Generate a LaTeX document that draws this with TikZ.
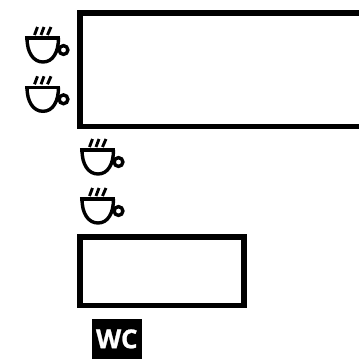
\documentclass[tikz,border=0pt]{standalone}
\usepackage{fontspec}
\setsansfont[BoldFeatures={FakeBold=1}]{Open Sans}
\usepackage{tikz}
\usetikzlibrary{positioning,calc}

\begin{document}
\begin{tikzpicture}[
  x=1pt, y=-1pt,
  room/.style={draw, rectangle, line width=5.6pt, inner sep=0pt, outer sep=0pt},
  wcbox/.style={rectangle, fill=black, text=white, inner sep=0pt, minimum width=49.7pt, minimum height=39.7pt, font=\sffamily\bfseries\fontsize{26pt}{26pt}\selectfont},
  cupline/.style={line width=3.4pt},
  steam/.style={line width=2.9pt},
  cup/.pic={
    \draw[cupline] (0,0) -- (35,0);
    \draw[cupline] (2,0) .. controls (2,14) and (8,24) .. (18,24) .. controls (28,24) and (33.5,14) .. (33.5,0);
    \draw[cupline] (38.5,12) circle (4.4);
    \draw[steam] (9.5,-3) -- (12.5,-11);
    \draw[steam] (16,-3) -- (19,-11);
    \draw[steam] (22.5,-3) -- (26,-11);
  }
]
\useasboundingbox (0,0) rectangle (359,360);
\node[room, minimum width=300pt, minimum height=113.7pt] (lounge) at (230,69.7) {};
\node[room, minimum width=163.7pt, minimum height=68.7pt] (kitchen) at (162,271.2) {};
\node[wcbox] (wc) at (116.8,338.9) {WC};
\pic at (25,38) {cup};
\pic at (25,87.3) {cup};
\pic at (80,150) {cup};
\pic at (80,199) {cup};
\end{tikzpicture}
\end{document}
